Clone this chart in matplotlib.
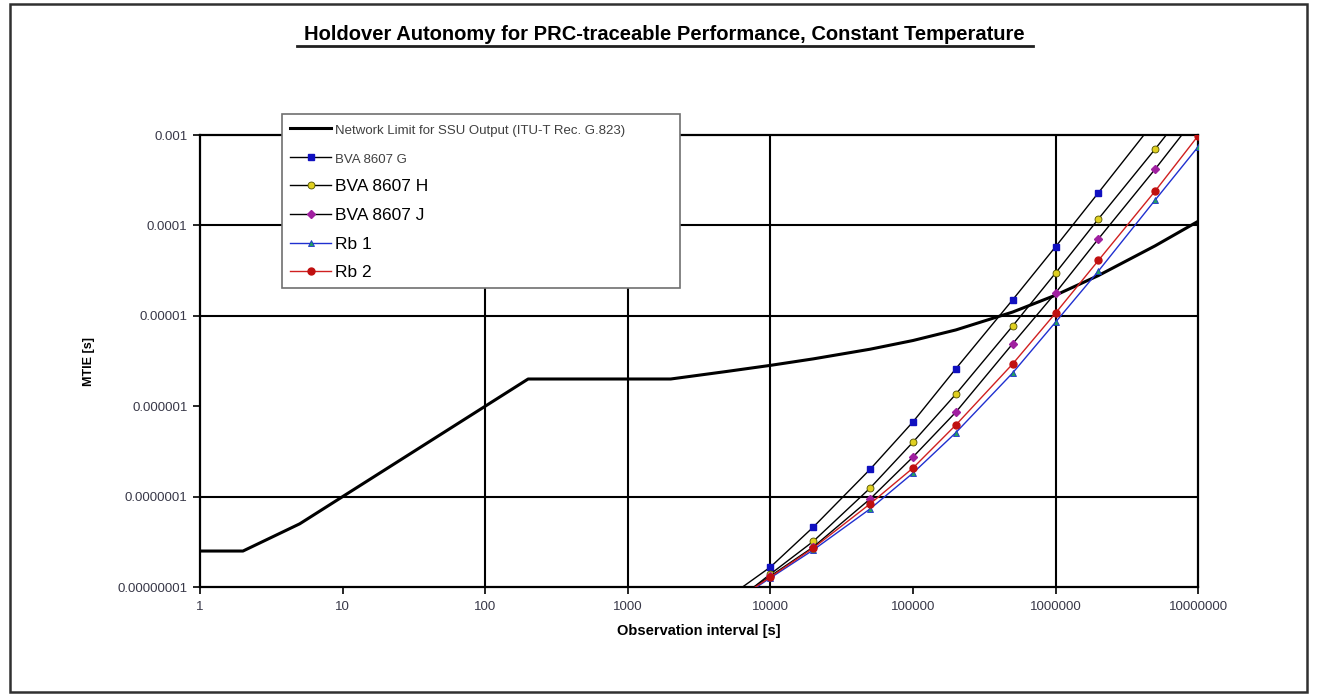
import matplotlib.pyplot as plt
import matplotlib.lines as mlines
import matplotlib.patches as mpatches

plt.rcParams['font.family'] = ['Liberation Sans', 'DejaVu Sans']

# network limit G.823 (SSU output)
tau_lim = [1, 2, 5, 10, 20, 50, 100, 200, 500, 1000, 2000, 5000, 1e4, 2e4, 5e4,
           1e5, 2e5, 5e5, 1e6, 2e6, 5e6, 1e7]
mtie_lim = [2.5e-8, 2.5e-8, 5e-8, 1e-7, 2e-7, 5e-7, 1e-6, 2e-6, 2e-6, 2e-6, 2e-6,
            2.43e-6, 2.83e-6, 3.34e-6, 4.27e-6, 5.33e-6, 6.98e-6, 1.10e-5, 1.69e-5,
            2.79e-5, 5.95e-5, 1.11e-4]

# oscillators
tau = [5000, 1e4, 2e4, 5e4, 1e5, 2e5, 5e5, 1e6, 2e6, 5e6, 1e7]
bva_g = [7.6e-9, 1.66e-8, 4.6e-8, 2.0e-7, 6.7e-7, 2.6e-6, 1.5e-5, 5.8e-5, 2.3e-4, 1.44e-3, 5.8e-3]
bva_h = [5.9e-9, 1.39e-8, 3.2e-8, 1.24e-7, 4.0e-7, 1.36e-6, 7.7e-6, 2.97e-5, 1.18e-4, 7.0e-4, 2.8e-3]
bva_j = [6.3e-9, 1.32e-8, 2.77e-8, 9.4e-8, 2.74e-7, 8.6e-7, 4.9e-6, 1.79e-5, 7.1e-5, 4.2e-4, 1.7e-3]
rb1 = [6.1e-9, 1.26e-8, 2.57e-8, 7.3e-8, 1.82e-7, 5.1e-7, 2.33e-6, 8.5e-6, 3.13e-5, 1.91e-4, 7.4e-4]
rb2 = [6.2e-9, 1.29e-8, 2.7e-8, 8.3e-8, 2.07e-7, 6.2e-7, 2.93e-6, 1.07e-5, 4.1e-5, 2.4e-4, 9.8e-4]

xticks = [1, 10, 100, 1000, 1e4, 1e5, 1e6, 1e7]
xlabels = ['1', '10', '100', '1000', '10000', '100000', '1000000', '10000000']
yticks = [1e-8, 1e-7, 1e-6, 1e-5, 1e-4, 1e-3]
ylabels = ['0.00000001', '0.0000001', '0.000001', '0.00001', '0.0001', '0.001']

fig = plt.figure(figsize=(13.17, 6.96), dpi=100)
ax = fig.add_axes([0.1519, 0.1566, 0.7578, 0.6494])

# grid lines (only the ones visible in the original)
for gx in [100, 1000, 1e4, 1e6]:
    ax.axvline(gx, color='black', lw=1.5, zorder=1)
for gy in [1e-7, 1e-5, 1e-4]:
    ax.axhline(gy, color='black', lw=1.5, zorder=1)

ax.plot(tau_lim, mtie_lim, color='black', lw=2.2, zorder=3,
        label='Network Limit for SSU Output (ITU-T Rec. G.823)')
ax.plot(tau, bva_g, color='black', lw=1, marker='s', ms=5, mfc='#1010c0', mec='#1010c0',
        zorder=4, label='BVA 8607 G')
ax.plot(tau, bva_h, color='black', lw=1, marker='o', ms=5, mfc='#e0d020', mec='#505000',
        mew=0.6, zorder=4, label='BVA 8607 H')
ax.plot(tau, bva_j, color='black', lw=1, marker='D', ms=4.5, mfc='#a020a0', mec='#a020a0',
        zorder=4, label='BVA 8607 J')
ax.plot(tau, rb1, color='#2030d0', lw=1, marker='^', ms=5, mfc='#20a060', mec='#2030d0',
        mew=0.6, zorder=4, label='Rb 1')
ax.plot(tau, rb2, color='#d02020', lw=1, marker='o', ms=5, mfc='#c01010', mec='#c01010',
        zorder=4, label='Rb 2')

ax.set_xscale('log')
ax.set_yscale('log')
ax.set_xlim(1, 1e7)
ax.set_ylim(1e-8, 1e-3)
ax.set_xticks(xticks)
ax.set_xticklabels(xlabels)
ax.set_yticks(yticks)
ax.set_yticklabels(ylabels)
ax.minorticks_off()
ax.tick_params(axis='both', direction='out', length=5, width=1.2, labelsize=9.5,
               labelcolor='#383848', pad=4)
ax.tick_params(axis='x', pad=5)
for s in ax.spines.values():
    s.set_linewidth(1.6)
    s.set_color('black')

ax.set_xlabel('Observation interval [s]', fontsize=10.5, fontweight='bold', labelpad=8)
ax.set_ylabel('MTIE [s]', fontsize=9, fontweight='bold', labelpad=16)

leg = ax.legend(loc='upper left',
                bbox_to_anchor=(282 / 1317, 1 - 285 / 696, 398 / 1317, 171 / 696),
                bbox_transform=fig.transFigure, mode='expand', borderaxespad=0,
                frameon=True, fancybox=False, framealpha=1, edgecolor='#707070',
                borderpad=0.45, labelspacing=0.78, handlelength=2.4,
                handletextpad=0.2, fontsize=12.5)
leg.get_frame().set_linewidth(1.2)
leg.set_zorder(10)
for i, t in enumerate(leg.get_texts()):
    if i < 2:
        t.set_fontsize(9.5)
        t.set_color('#404040')

fig.text(0.5045, 1 - 35 / 696, 'Holdover Autonomy for PRC-traceable Performance, Constant Temperature',
         ha='center', va='center', fontsize=14.5, fontweight='bold')
fig.add_artist(mlines.Line2D([297 / 1317, 1033 / 1317], [1 - 46 / 696, 1 - 46 / 696],
                             color='#202020', lw=2))

# chart area border
fig.add_artist(mpatches.Rectangle((10 / 1317, 4 / 696), 1297 / 1317, 688 / 696,
                                  fill=False, edgecolor='#303030', lw=1.8))

fig.savefig('out.png', dpi=100)
